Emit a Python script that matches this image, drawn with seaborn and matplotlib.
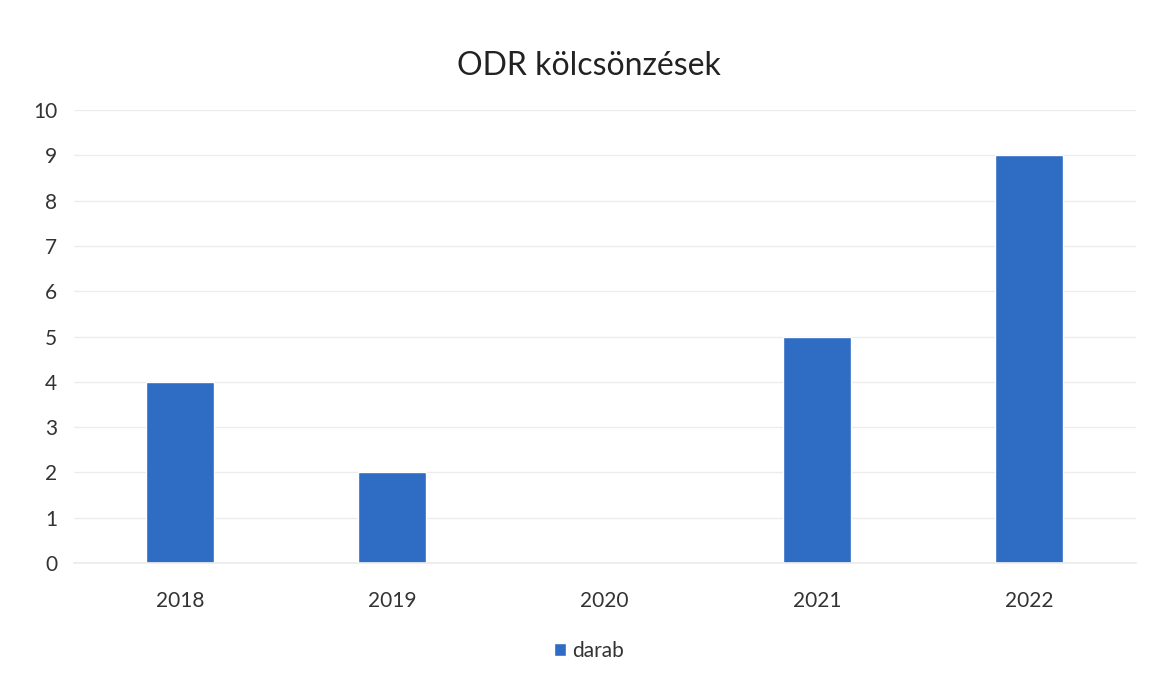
import matplotlib
matplotlib.use('Agg')
import matplotlib.pyplot as plt
import seaborn as sns
import pandas as pd

years = ['2018', '2019', '2020', '2021', '2022']
darab = [4, 2, 0, 5, 9]
y_ticks = list(range(0, 11))

sns.set_theme(style='white')
plt.rcParams['font.family'] = ['Lato', 'DejaVu Sans']

df = pd.DataFrame({'év': years, 'darab': darab})

fig = plt.figure(figsize=(11.54, 6.84), dpi=100)
ax = fig.add_axes([0.064, 0.177, 0.92, 0.662])

sns.barplot(data=df, x='év', y='darab', color='#2f6cc4', width=0.32,
            saturation=1, ax=ax, label='darab')

ax.set_ylim(0, 10)
ax.set_yticks(y_ticks)
ax.yaxis.grid(True, color='#ececec', linewidth=1)
ax.set_axisbelow(True)
for s in ax.spines.values():
    s.set_visible(False)
ax.spines['bottom'].set_visible(True)
ax.spines['bottom'].set_color('#ececec')
ax.tick_params(axis='x', length=0, labelsize=15, colors='#333333', pad=20)
ax.tick_params(axis='y', length=0, labelsize=15, colors='#333333', pad=12)
ax.set_xlabel('')
ax.set_ylabel('')

fig.suptitle('ODR kölcsönzések', x=0.51, y=0.925, fontsize=23, color='#222222')

ax.legend(loc='upper center', bbox_to_anchor=(0.485, -0.13), frameon=False,
          fontsize=15, handlelength=0.6, handleheight=0.6, handletextpad=0.3,
          labelcolor='#333333')

fig.savefig('out.png', dpi=100, facecolor='white')
